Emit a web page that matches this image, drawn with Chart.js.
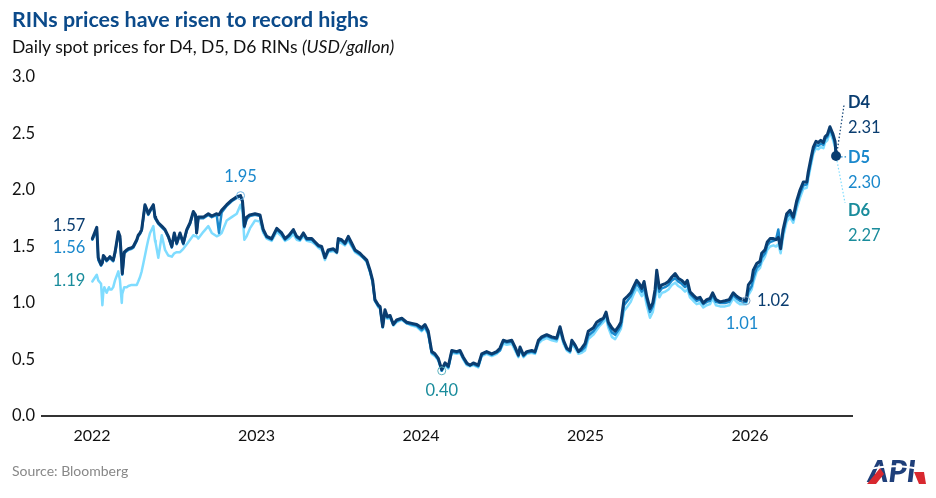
<!DOCTYPE html>
<html><head><meta charset="utf-8">
<script src="https://cdn.jsdelivr.net/npm/chart.js@4/dist/chart.umd.min.js"></script>
<style>
html,body{margin:0;padding:0;background:#fff;}
#wrap{position:relative;width:936px;height:498px;overflow:hidden;}
#c{position:absolute;left:0;top:0;}
.t{position:absolute;white-space:nowrap;font-family:Lato,"Open Sans",sans-serif;}
#title{left:12px;top:6px;font-size:21.4px;font-weight:700;color:#0b4a8a;}
#sub{left:12px;top:36px;font-size:17.5px;color:#111;}
#src{left:12px;top:462px;font-size:14px;color:#888;}
</style></head>
<body><div id="wrap">
<canvas id="c" width="936" height="498"></canvas>
<div class="t" id="title">RINs prices have risen to record highs</div>
<div class="t" id="sub">Daily spot prices for D4, D5, D6 RINs <i>(USD/gallon)</i></div>
<div class="t" id="src">Source: Bloomberg</div>
</div>
<script>
const YEAR_TICKS = [2022, 2023, 2024, 2025, 2026];
const Y_TICKS = [0, 0.5, 1, 1.5, 2, 2.5, 3];
const SERIES = ['D4', 'D5', 'D6'];
const X = [
2022.002,2022.029,2022.038,2022.055,2022.063,2022.069,2022.075,2022.089,2022.103,2022.109,
2022.120,2022.129,2022.140,2022.160,2022.170,2022.181,2022.184,2022.196,2022.211,2022.221,
2022.241,2022.251,2022.272,2022.281,2022.292,2022.302,2022.312,2022.322,2022.333,2022.342,
2022.353,2022.373,2022.383,2022.387,2022.403,2022.424,2022.444,2022.464,2022.485,2022.500,
2022.515,2022.535,2022.555,2022.576,2022.596,2022.616,2022.629,2022.636,2022.646,2022.677,
2022.707,2022.728,2022.758,2022.772,2022.788,2022.819,2022.849,2022.880,2022.903,2022.915,
2022.926,2022.940,2022.960,2022.991,2023.021,2023.041,2023.062,2023.092,2023.123,2023.153,
2023.173,2023.198,2023.224,2023.244,2023.264,
2023.285,2023.305,2023.336,2023.356,2023.376,2023.396,2023.416,2023.436,2023.467,2023.488,
2023.497,2023.517,2023.538,2023.558,2023.579,2023.599,2023.629,2023.649,2023.670,2023.690,
2023.706,2023.720,2023.741,2023.751,2023.767,2023.781,2023.795,2023.812,2023.832,2023.852,
2023.883,2023.913,2023.944,2023.974,2024.004,2024.024,2024.044,2024.065,2024.085,2024.105,
2024.126,2024.146,2024.166,2024.187,2024.217,2024.237,2024.257,2024.278,2024.298,2024.318,
2024.348,2024.369,2024.399,2024.430,2024.460,2024.480,
2024.500,2024.521,2024.552,2024.572,2024.592,2024.602,2024.623,2024.643,2024.673,2024.693,
2024.714,2024.734,2024.764,2024.795,2024.825,2024.845,2024.866,2024.886,2024.906,2024.917,
2024.936,2024.957,2024.977,2024.997,2025.017,2025.048,2025.068,2025.088,2025.109,2025.125,
2025.139,2025.160,2025.180,2025.200,2025.215,2025.234,2025.255,2025.275,2025.291,2025.311,
2025.327,2025.342,2025.356,2025.372,2025.392,2025.409,2025.423,2025.433,2025.449,2025.464,
2025.484,2025.504,2025.525,2025.545,2025.564,2025.585,2025.605,2025.619,2025.635,2025.655,
2025.676,2025.696,
2025.716,2025.737,2025.757,2025.773,2025.793,2025.818,2025.848,2025.874,2025.898,2025.919,
2025.939,2025.959,2025.976,2025.990,2026.010,2026.020,2026.041,2026.061,2026.071,2026.091,
2026.105,2026.122,2026.142,2026.158,2026.172,2026.186,2026.201,2026.223,2026.243,2026.263,
2026.283,2026.304,2026.324,2026.345,2026.354,2026.369,2026.385,2026.401,2026.415,2026.430,
2026.446,2026.456,2026.470,2026.486,2026.503,2026.517,2026.523
];
const D4 = [
1.57,1.67,1.40,1.34,1.36,1.42,1.41,1.38,1.40,1.41,
1.39,1.38,1.45,1.63,1.59,1.35,1.26,1.45,1.47,1.48,
1.49,1.50,1.56,1.60,1.62,1.65,1.76,1.87,1.83,1.79,
1.82,1.87,1.76,1.75,1.71,1.68,1.65,1.59,1.50,1.62,
1.53,1.62,1.53,1.65,1.71,1.81,1.78,1.62,1.76,1.76,
1.79,1.77,1.79,1.78,1.82,1.87,1.91,1.94,1.95,1.90,
1.68,1.76,1.78,1.79,1.78,1.65,1.59,1.57,1.66,1.62,
1.57,1.60,1.65,1.59,1.57,
1.62,1.57,1.57,1.54,1.51,1.50,1.40,1.47,1.48,1.45,
1.57,1.56,1.53,1.59,1.53,1.47,1.44,1.41,1.38,1.29,
1.20,1.03,0.98,0.97,0.79,0.94,0.88,0.89,0.81,0.85,
0.865,0.83,0.82,0.81,0.78,0.81,0.75,0.57,0.55,0.51,
0.41,0.47,0.44,0.58,0.57,0.58,0.52,0.47,0.45,0.47,
0.45,0.55,0.57,0.55,0.57,0.60,
0.67,0.66,0.67,0.61,0.54,0.61,0.54,0.57,0.58,0.57,
0.67,0.70,0.72,0.70,0.69,0.79,0.67,0.60,0.58,0.67,
0.63,0.57,0.60,0.64,0.75,0.78,0.83,0.85,0.865,0.92,
0.83,0.78,0.75,0.79,0.83,1.03,1.06,1.09,1.14,1.20,
1.17,1.13,1.19,1.06,0.95,1.00,1.12,1.29,1.13,1.16,
1.17,1.19,1.23,1.26,1.22,1.20,1.17,1.20,1.10,1.07,
1.04,1.05,
1.00,1.03,1.04,1.09,1.03,1.01,1.02,1.03,1.09,1.06,
1.04,1.03,1.02,1.16,1.20,1.29,1.35,1.37,1.44,1.47,
1.54,1.57,1.57,1.56,1.58,1.48,1.65,1.79,1.82,1.76,
1.90,2.00,2.07,2.07,2.16,2.27,2.38,2.43,2.42,2.44,
2.42,2.47,2.49,2.56,2.50,2.43,2.31
];
const D5 = [
1.56,1.64,1.38,1.33,1.35,1.41,1.40,1.37,1.39,1.40,
1.38,1.37,1.44,1.61,1.57,1.33,1.25,1.44,1.46,1.47,
1.48,1.49,1.55,1.59,1.61,1.64,1.75,1.86,1.82,1.78,
1.81,1.86,1.75,1.74,1.70,1.67,1.64,1.58,1.49,1.61,
1.52,1.61,1.52,1.64,1.70,1.80,1.77,1.62,1.75,1.75,
1.78,1.76,1.78,1.62,1.80,1.86,1.90,1.93,1.95,1.89,
1.67,1.74,1.77,1.78,1.77,1.64,1.58,1.56,1.65,1.61,
1.56,1.59,1.64,1.58,1.56,
1.61,1.56,1.56,1.53,1.50,1.49,1.41,1.46,1.47,1.46,
1.55,1.55,1.52,1.57,1.51,1.46,1.43,1.40,1.37,1.28,
1.19,1.02,0.97,0.96,0.80,0.92,0.87,0.88,0.81,0.84,
0.86,0.82,0.81,0.80,0.76,0.79,0.73,0.56,0.54,0.50,
0.40,0.46,0.43,0.57,0.56,0.57,0.51,0.46,0.45,0.46,
0.44,0.54,0.56,0.54,0.56,0.58,
0.66,0.65,0.66,0.60,0.53,0.60,0.53,0.56,0.57,0.56,
0.66,0.69,0.71,0.69,0.68,0.77,0.66,0.59,0.57,0.66,
0.62,0.57,0.58,0.61,0.71,0.75,0.79,0.82,0.86,0.90,
0.81,0.74,0.72,0.76,0.80,0.98,1.02,1.06,1.11,1.17,
1.14,1.10,1.14,1.03,0.92,0.97,1.07,1.24,1.10,1.13,
1.14,1.16,1.20,1.22,1.19,1.17,1.14,1.16,1.08,1.05,
1.02,1.03,
0.99,1.01,1.02,1.07,1.01,1.00,1.00,1.01,1.07,1.04,
1.02,1.01,1.01,1.10,1.15,1.22,1.31,1.34,1.40,1.44,
1.51,1.54,1.55,1.56,1.65,1.50,1.62,1.76,1.79,1.74,
1.87,1.97,2.04,2.05,2.13,2.24,2.35,2.40,2.39,2.41,
2.40,2.45,2.47,2.54,2.48,2.41,2.30
];
const D6 = [
1.19,1.25,1.20,1.17,0.98,1.10,1.14,1.09,1.14,1.12,
1.12,1.14,1.20,1.28,1.20,1.00,1.08,1.14,1.14,1.15,
1.16,1.16,1.16,1.19,1.23,1.28,1.35,1.42,1.50,1.56,
1.62,1.68,1.55,1.53,1.40,1.60,1.47,1.42,1.41,1.44,
1.45,1.45,1.48,1.52,1.56,1.60,1.59,1.59,1.57,1.63,
1.68,1.62,1.59,1.60,1.62,1.73,1.76,1.79,1.87,1.80,
1.56,1.59,1.66,1.73,1.72,1.62,1.57,1.55,1.63,1.59,
1.55,1.57,1.61,1.56,1.55,
1.59,1.55,1.54,1.52,1.49,1.47,1.38,1.45,1.46,1.44,
1.54,1.53,1.51,1.55,1.50,1.45,1.42,1.40,1.36,1.27,
1.18,1.02,0.96,0.95,0.78,0.91,0.86,0.87,0.80,0.83,
0.85,0.82,0.80,0.79,0.75,0.78,0.72,0.55,0.53,0.49,
0.40,0.45,0.42,0.56,0.55,0.56,0.50,0.45,0.44,0.45,
0.43,0.53,0.55,0.53,0.55,0.58,
0.64,0.63,0.64,0.58,0.52,0.58,0.52,0.55,0.56,0.55,
0.64,0.67,0.69,0.67,0.66,0.75,0.64,0.58,0.56,0.64,
0.60,0.55,0.56,0.58,0.68,0.72,0.76,0.80,0.83,0.87,
0.78,0.70,0.68,0.73,0.77,0.93,0.97,1.01,1.07,1.13,
1.10,1.06,1.10,0.98,0.87,0.92,1.03,1.18,1.05,1.09,
1.10,1.12,1.16,1.18,1.15,1.13,1.10,1.12,1.05,1.02,
0.99,1.00,
0.96,0.98,0.99,1.04,0.98,0.97,0.97,0.98,1.04,1.01,
0.99,0.99,0.99,1.07,1.12,1.18,1.28,1.31,1.36,1.41,
1.47,1.50,1.51,1.50,1.52,1.44,1.58,1.72,1.76,1.71,
1.83,1.93,2.01,2.02,2.10,2.21,2.32,2.37,2.36,2.38,
2.37,2.42,2.44,2.51,2.45,2.38,2.27
];
const PEAK_I = 58, LOW_I = 115, MARK_I = 205, END_I = X.length - 1;

const NAVY = '#0a3d70', BLUE = '#1a88cc', CYAN = '#7fdcff', TEAL = '#1a8c9c';
const FONT = 'Lato, "Open Sans", sans-serif';

const pts = arr => X.map((x, i) => ({x, y: arr[i]}));

const annot = {
  id: 'annot',
  afterDatasetsDraw(chart) {
    const {ctx, scales: {x, y}} = chart;
    const px = i => x.getPixelForValue(X[i]);
    const py = v => y.getPixelForValue(v);
    const txt = (s, tx, ty, c, align, bold) => {
      ctx.font = (bold ? '700 ' : '') + '16.5px ' + FONT;
      ctx.fillStyle = c; ctx.textAlign = align; ctx.textBaseline = 'middle';
      ctx.fillText(s, tx, ty);
    };
    const ring = (cx, cy, c) => {
      ctx.beginPath(); ctx.arc(cx, cy, 4, 0, Math.PI * 2);
      ctx.lineWidth = 1; ctx.strokeStyle = c; ctx.stroke();
    };
    ctx.save();
    // start
    const sx = px(0);
    txt(D4[0].toFixed(2), sx - 7, py(D4[0]) - 13, NAVY, 'right');
    txt(D5[0].toFixed(2), sx - 7, py(D5[0]) + 8, BLUE, 'right');
    txt(D6[0].toFixed(2), sx - 7, py(D6[0]) - 1, TEAL, 'right');
    // peak
    const pkx = px(PEAK_I), pky = py(D5[PEAK_I]);
    ring(pkx, pky, '#6fb4e4');
    txt(D5[PEAK_I].toFixed(2), pkx, pky - 19, BLUE, 'center');
    // low
    const lx = px(LOW_I), ly = py(D6[LOW_I]);
    ring(lx, ly, '#5fb3bf');
    txt(D6[LOW_I].toFixed(2), lx, ly + 20, TEAL, 'center');
    // mark
    const mx = px(MARK_I), my = py(D4[MARK_I]);
    ring(mx, my, '#7fa3c4');
    txt(D4[MARK_I].toFixed(2), mx + 11, my, NAVY, 'left');
    txt(D5[MARK_I].toFixed(2), mx - 4, py(D5[MARK_I]) + 22, BLUE, 'center');
    // end
    const ex = px(END_I), ey = py(D4[END_I]);
    ctx.beginPath(); ctx.arc(ex, ey + 1, 5, 0, Math.PI * 2);
    ctx.fillStyle = NAVY; ctx.fill();
    ctx.lineWidth = 1.2;
    ctx.setLineDash([1.5, 2]);
    ctx.strokeStyle = NAVY;
    ctx.beginPath(); ctx.moveTo(ex + 1, ey - 3); ctx.lineTo(ex + 8, ey - 50); ctx.stroke();
    ctx.strokeStyle = BLUE;
    ctx.beginPath(); ctx.moveTo(ex + 5, ey + 2); ctx.lineTo(ex + 10, ey + 2); ctx.stroke();
    ctx.strokeStyle = CYAN;
    ctx.beginPath(); ctx.moveTo(ex + 1, ey + 6); ctx.lineTo(ex + 9, ey + 48); ctx.stroke();
    ctx.setLineDash([]);
    const lxp = ex + 12;
    txt(SERIES[0], lxp, ey - 52, NAVY, 'left', true);
    txt(D4[END_I].toFixed(2), lxp, ey - 27, NAVY, 'left');
    txt(SERIES[1], lxp, ey + 3, BLUE, 'left', true);
    txt(D5[END_I].toFixed(2), lxp, ey + 28, BLUE, 'left');
    txt(SERIES[2], lxp, ey + 56, TEAL, 'left', true);
    txt(D6[END_I].toFixed(2), lxp, ey + 81, TEAL, 'left');
    ctx.restore();
  },
  afterDraw(chart) {
    // API logo
    const ctx = chart.ctx;
    ctx.save();
    ctx.fillStyle = '#1f3f7a';
    ctx.font = 'italic 900 31px Lato, sans-serif';
    ctx.textBaseline = 'alphabetic'; ctx.textAlign = 'left';
    ctx.fillText('API', 868, 482);
    ctx.fillStyle = '#d8282f';
    ctx.beginPath(); ctx.moveTo(867, 484); ctx.lineTo(880, 468); ctx.lineTo(884, 474); ctx.lineTo(876, 484); ctx.closePath(); ctx.fill();
    ctx.beginPath(); ctx.moveTo(914, 472); ctx.lineTo(924, 472); ctx.lineTo(926, 484); ctx.lineTo(919, 484); ctx.closePath(); ctx.fill();
    ctx.strokeStyle = '#fff'; ctx.lineWidth = 2;
    ctx.beginPath(); ctx.moveTo(866, 470); ctx.quadraticCurveTo(895, 462, 928, 471); ctx.stroke();
    ctx.restore();
  }
};

new Chart(document.getElementById('c'), {
  type: 'line',
  data: {
    datasets: [
      {label: SERIES[0], data: pts(D4), borderColor: NAVY, borderWidth: 3},
      {label: SERIES[1], data: pts(D5), borderColor: BLUE, borderWidth: 2.5},
      {label: SERIES[2], data: pts(D6), borderColor: CYAN, borderWidth: 2.5}
    ]
  },
  options: {
    responsive: false,
    animation: false,
    parsing: false,
    elements: {point: {radius: 0}, line: {tension: 0, borderJoinStyle: 'round', borderCapStyle: 'round'}},
    layout: {padding: {left: 0, right: 84, top: 77, bottom: 40}},
    plugins: {legend: {display: false}, tooltip: {enabled: false}},
    scales: {
      x: {
        type: 'linear', min: 2021.696, max: 2026.62,
        grid: {display: false, drawTicks: false},
        border: {display: true, color: '#333', width: 2},
        ticks: {padding: 10, color: '#111', font: {family: FONT, size: 16}, callback: v => String(v), maxRotation: 0},
        afterBuildTicks: s => { s.ticks = YEAR_TICKS.map(v => ({value: v})); },
        afterFit: s => { s.height = 42; }
      },
      y: {
        min: 0, max: 3,
        grid: {display: false, drawTicks: false},
        border: {display: false},
        ticks: {padding: 7, color: '#111', font: {family: FONT, size: 16.5}, callback: v => Number(v).toFixed(1)},
        afterBuildTicks: s => { s.ticks = Y_TICKS.map(v => ({value: v})); },
        afterFit: s => { s.width = 42; }
      }
    }
  },
  plugins: [annot]
});
</script>
</body></html>
